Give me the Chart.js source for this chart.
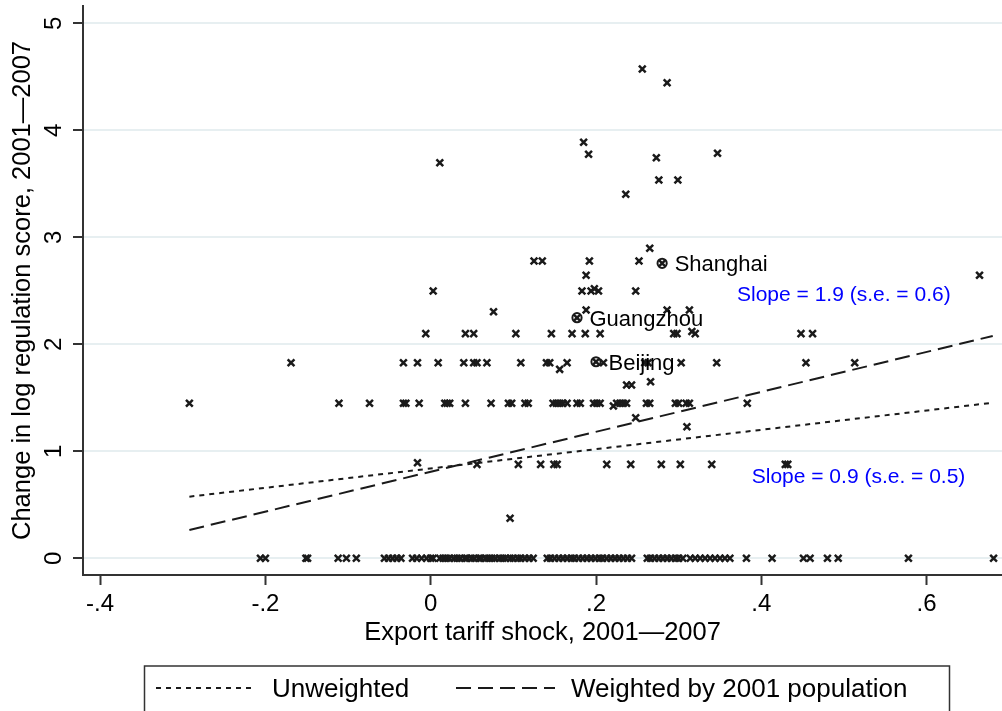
<!DOCTYPE html>
<html>
<head>
<meta charset="utf-8">
<script src="https://cdn.jsdelivr.net/npm/chart.js@4.4.1/dist/chart.umd.min.js"></script>
<style>
  html, body { margin: 0; padding: 0; background: #fff; }
  #wrap { width: 1002px; height: 711px; }
</style>
</head>
<body>
<div id="wrap"><canvas id="chart" width="1002" height="711"></canvas></div>
<script>
// Prefecture cities: change in log regulation score (rows) and export tariff shock (per row)
const changeLevels = [
  0, 0.374, 0.878, 0.893, 1.23, 1.314, 1.423, 1.449, 1.62, 1.65, 1.766, 1.828,
  2.10, 2.12, 2.305, 2.32, 2.498, 2.52, 2.645, 2.779, 2.897, 3.402, 3.536,
  3.697, 3.744, 3.776, 3.785, 3.888, 4.445, 4.573
];
const shocksByLevel = [
  [-0.206, -0.200, -0.151, -0.149, -0.112, -0.102, -0.090,
   -0.056, -0.051, -0.046, -0.041, -0.036,
   -0.022, -0.017, -0.011, -0.005, 0.000, 0.003,
   0.011, 0.015, 0.019, 0.023, 0.028, 0.032, 0.036, 0.041, 0.044, 0.049, 0.053,
   0.058, 0.061, 0.066, 0.070, 0.074, 0.078, 0.083, 0.087, 0.091, 0.096,
   0.100, 0.105, 0.109, 0.114, 0.119, 0.124,
   0.141, 0.145, 0.150, 0.155, 0.160, 0.165, 0.170, 0.174, 0.179, 0.184, 0.189,
   0.194, 0.199, 0.204, 0.208, 0.213, 0.218, 0.223, 0.228, 0.233, 0.238,
   0.243,
   0.262, 0.266, 0.271, 0.276, 0.281, 0.286, 0.291, 0.296, 0.300, 0.305,
   0.314, 0.320, 0.326, 0.332, 0.338, 0.344, 0.350, 0.356, 0.362,
   0.382, 0.413, 0.451, 0.459, 0.480, 0.493, 0.578, 0.681],
  [0.096],
  [0.056, 0.106, 0.133, 0.149, 0.153, 0.213, 0.242, 0.279, 0.302, 0.340, 0.429, 0.432],
  [-0.016],
  [0.310],
  [0.248],
  [0.221],
  [-0.292, -0.111, -0.074, -0.033, -0.030, -0.014, 0.017, 0.020, 0.023, 0.042,
   0.073, 0.094, 0.098, 0.114, 0.118, 0.148, 0.152, 0.156, 0.160, 0.165, 0.177,
   0.181, 0.197, 0.201, 0.205, 0.225, 0.229, 0.233, 0.237, 0.261, 0.265, 0.296,
   0.300, 0.309, 0.313, 0.383],
  [0.237, 0.243],
  [0.266],
  [0.156],
  [-0.169, -0.033, -0.016, 0.009, 0.040, 0.052, 0.056, 0.068, 0.109, 0.140,
   0.144, 0.165, 0.209, 0.259, 0.263, 0.303, 0.346, 0.454, 0.513],
  [-0.006, 0.042, 0.052, 0.103, 0.146, 0.171, 0.187, 0.205, 0.294, 0.298, 0.320, 0.448, 0.462],
  [0.316],
  [0.076],
  [0.188, 0.286, 0.313],
  [0.003, 0.183, 0.194, 0.203, 0.248],
  [0.198],
  [0.188, 0.664],
  [0.125, 0.135, 0.192, 0.252],
  [0.265],
  [0.236],
  [0.276, 0.299],
  [0.011],
  [0.273],
  [0.191],
  [0.347],
  [0.185],
  [0.286],
  [0.256]
];

// Highlighted cities
const cityNames = ['Shanghai', 'Guangzhou', 'Beijing'];
const cityShock = [0.280, 0.177, 0.200];
const cityChange = [2.757, 2.249, 1.837];

// Fitted lines (endpoints over the range of the data)
const fitShock = [-0.292, 0.680];
const unweightedFit = [0.576, 1.454];
const weightedFit = [0.2645, 2.078];

// Slope notes: text, anchor (shock, change)
const slopeNotes = ['Slope = 1.9 (s.e. = 0.6)', 'Slope = 0.9 (s.e. = 0.5)'];
const slopeNoteShock = [0.3706, 0.3884];
const slopeNoteChange = [2.479, 0.7785];

// Axes
const xTickValues = [-0.4, -0.2, 0, 0.2, 0.4, 0.6];
const xTickLabels = ['-.4', '-.2', '0', '.2', '.4', '.6'];
const yTickValues = [0, 1, 2, 3, 4, 5];
const yTickLabels = ['0', '1', '2', '3', '4', '5'];

const seriesNames = ['Unweighted', 'Weighted by 2001 population'];

const FONT = '"Liberation Sans", Arial, Helvetica, sans-serif';
const INK = '#1a1a1a';
const AXIS = '#333333';
const GRID = '#e7eff1';

const cityPoints = changeLevels.flatMap((lvl, i) => shocksByLevel[i].map(s => ({ x: s, y: lvl })))
  .concat(cityShock.map((s, i) => ({ x: s, y: cityChange[i] })));
const highlightPoints = cityShock.map((s, i) => ({ x: s, y: cityChange[i] }));

const dotted = [5, 5];
const dashed = [15, 7];

const overlay = {
  id: 'overlay',
  afterDraw(chart) {
    const { ctx } = chart;
    const xs = chart.scales.x, ys = chart.scales.y;
    ctx.save();
    ctx.fillStyle = '#000';

    // vertical axis labels, turned like the axis title
    const tickSize = 24;
    ctx.font = `${tickSize}px ${FONT}`;
    ctx.textAlign = 'center';
    ctx.textBaseline = 'alphabetic';
    yTickValues.forEach((v, i) => {
      ctx.save();
      ctx.translate(52.5 + 0.358 * tickSize, ys.getPixelForValue(v));
      ctx.rotate(-Math.PI / 2);
      ctx.fillText(yTickLabels[i], 0, 0);
      ctx.restore();
    });

    // city names at 3 o'clock of their markers
    const citySize = 22;
    ctx.font = `${citySize}px ${FONT}`;
    ctx.textAlign = 'left';
    cityNames.forEach((name, i) => {
      const px = xs.getPixelForValue(cityShock[i]);
      const py = ys.getPixelForValue(cityChange[i]);
      ctx.fillText(name, px + 12.5, py + 0.358 * citySize);
    });

    // slope notes
    const noteSize = 21;
    ctx.font = `${noteSize}px ${FONT}`;
    ctx.fillStyle = '#0000ff';
    slopeNotes.forEach((t, i) => {
      const px = xs.getPixelForValue(slopeNoteShock[i]);
      const py = ys.getPixelForValue(slopeNoteChange[i]);
      ctx.fillText(t, px, py + 0.358 * noteSize);
    });

    // legend box below the axis title
    const legSize = 26;
    const legY = 688;
    ctx.strokeStyle = AXIS;
    ctx.lineWidth = 1.5;
    ctx.setLineDash([]);
    ctx.strokeRect(144.5, 666, 805, 80);
    const items = [
      { x0: 156, x1: 255, tx: 272, dash: dotted },
      { x0: 456, x1: 555, tx: 571, dash: dashed }
    ];
    ctx.font = `${legSize}px ${FONT}`;
    ctx.fillStyle = '#000';
    items.forEach((it, i) => {
      ctx.strokeStyle = INK;
      ctx.lineWidth = 2;
      ctx.setLineDash(it.dash);
      ctx.beginPath();
      ctx.moveTo(it.x0, legY);
      ctx.lineTo(it.x1, legY);
      ctx.stroke();
      ctx.setLineDash([]);
      ctx.fillText(seriesNames[i], it.tx, legY + 0.358 * legSize);
    });
    ctx.restore();
  }
};

new Chart(document.getElementById('chart'), {
  type: 'scatter',
  data: {
    datasets: [
      {
        label: seriesNames[0],
        type: 'line',
        data: fitShock.map((s, i) => ({ x: s, y: unweightedFit[i] })),
        borderColor: INK,
        borderWidth: 2,
        borderDash: dotted,
        pointRadius: 0,
        fill: false,
        order: 0
      },
      {
        label: seriesNames[1],
        type: 'line',
        data: fitShock.map((s, i) => ({ x: s, y: weightedFit[i] })),
        borderColor: INK,
        borderWidth: 2,
        borderDash: dashed,
        pointRadius: 0,
        fill: false,
        order: 0
      },
      {
        label: 'Cities',
        data: cityPoints,
        pointStyle: 'crossRot',
        pointRadius: 4.8,
        borderWidth: 2.5,
        borderColor: INK,
        backgroundColor: INK,
        order: 2
      },
      {
        label: 'Highlighted',
        data: highlightPoints,
        pointStyle: 'circle',
        pointRadius: 4.6,
        borderWidth: 2,
        borderColor: INK,
        backgroundColor: 'rgba(0,0,0,0)',
        order: 1
      }
    ]
  },
  options: {
    responsive: false,
    devicePixelRatio: 1,
    animation: false,
    layout: { autoPadding: false, padding: { left: 0, right: 0, top: 6, bottom: 56 } },
    plugins: { legend: { display: false }, tooltip: { enabled: false } },
    scales: {
      x: {
        type: 'linear',
        min: -0.4207,
        max: 0.6912,
        afterBuildTicks: s => { s.ticks = xTickValues.map(v => ({ value: v })); },
        afterFit: s => { s.height = 80; s.paddingLeft = 0; s.paddingRight = 0; },
        ticks: {
          callback: (v, i) => xTickLabels[i],
          font: { family: FONT, size: 24 },
          color: '#000',
          padding: 5,
          maxRotation: 0,
          autoSkip: false
        },
        grid: { drawOnChartArea: false, drawTicks: true, tickLength: 10, tickColor: AXIS, tickWidth: 2 },
        border: { color: AXIS, width: 2 },
        title: {
          display: true,
          text: 'Export tariff shock, 2001\u20142007',
          font: { family: FONT, size: 25.5 },
          color: '#000',
          padding: { top: 0, bottom: 7 }
        }
      },
      y: {
        type: 'linear',
        min: -0.156,
        max: 5.162,
        afterBuildTicks: s => { s.ticks = yTickValues.map(v => ({ value: v })); },
        afterFit: s => { s.width = 83; s.paddingTop = 0; s.paddingBottom = 0; },
        ticks: { display: false },
        grid: { color: GRID, lineWidth: 2, drawTicks: true, tickLength: 10, tickColor: AXIS, tickWidth: 2 },
        border: { color: AXIS, width: 2 },
        title: {
          display: true,
          text: 'Change in log regulation score, 2001\u20142007',
          font: { family: FONT, size: 25.5 },
          color: '#000',
          padding: { top: 8, bottom: 0 }
        }
      }
    }
  },
  plugins: [overlay]
});
</script>
</body>
</html>
